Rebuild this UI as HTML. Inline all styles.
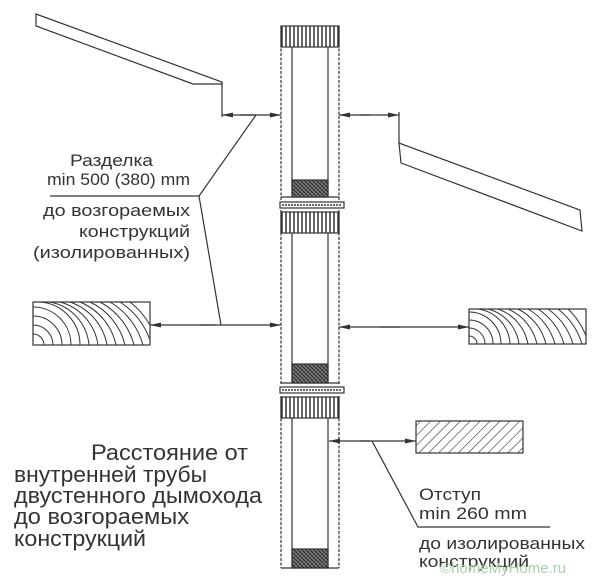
<!DOCTYPE html>
<html><head><meta charset="utf-8"><style>
html,body{margin:0;padding:0;background:#fff;}
svg{display:block;}
text{font-family:"Liberation Sans",sans-serif;fill:#333;}
</style></head><body>
<svg width="600" height="580" viewBox="0 0 600 580" xmlns="http://www.w3.org/2000/svg">
<defs>
<pattern id="vh" width="4" height="10" patternUnits="userSpaceOnUse"><rect width="4" height="10" fill="#fff"/><line x1="2" y1="0" x2="2" y2="10" stroke="#333" stroke-width="1.5"/></pattern>
<pattern id="xh" width="4" height="4" patternUnits="userSpaceOnUse"><rect width="4" height="4" fill="#888"/><line x1="0" y1="0" x2="4" y2="4" stroke="#222" stroke-width="1"/><line x1="4" y1="0" x2="0" y2="4" stroke="#444" stroke-width="0.8"/></pattern>
<pattern id="dh" width="7" height="7" patternUnits="userSpaceOnUse" patternTransform="rotate(45)"><rect width="7" height="7" fill="#fff"/><line x1="0" y1="0" x2="0" y2="7" stroke="#333" stroke-width="1.2"/></pattern>
<marker id="ar" markerWidth="12" markerHeight="6" refX="11" refY="3" orient="auto" markerUnits="userSpaceOnUse"><path d="M0,0.5 L11,3 L0,5.5 Z" fill="#333"/></marker>
</defs>
<g stroke="#333" stroke-width="1.2" fill="none">
<polygon points="36,14 36,26 193,84 222,84 222,82" fill="#fff"/>
<line x1="222" y1="82" x2="222" y2="117"/>
<line x1="256" y1="115" x2="222" y2="115" marker-end="url(#ar)"/>
<line x1="240" y1="115" x2="281" y2="115" marker-end="url(#ar)"/>
<polyline points="256,115 199,196 221,325"/>
<line x1="50" y1="196" x2="199" y2="196"/>
<rect x="33" y="302" width="117" height="43" fill="#fff"/>
<g stroke-width="1">
<path d="M33,334 A11,11 0 0 1 44,345"/><path d="M33,325 A20,20 0 0 1 53,345"/><path d="M33,316 A29,29 0 0 1 62,345"/><path d="M33,307 A38,38 0 0 1 71,345"/>
<path d="M40,302 A43,43 0 0 1 80,345"/><path d="M50,302 A48,48 0 0 1 89,345"/><path d="M60,302 A52,52 0 0 1 98,345"/><path d="M70,302 A56,56 0 0 1 107,345"/><path d="M80,302 A60,60 0 0 1 116,345"/><path d="M90,302 A64,64 0 0 1 125,345"/><path d="M100,302 A68,68 0 0 1 134,345"/><path d="M110,302 A72,72 0 0 1 143,345"/><path d="M120,302 A76,76 0 0 1 150,340"/><path d="M130,302 A80,80 0 0 1 150,325"/>
</g>
<line x1="215" y1="325" x2="150" y2="325" marker-end="url(#ar)"/>
<line x1="200" y1="325" x2="281" y2="325" marker-end="url(#ar)"/>
<line x1="399" y1="112" x2="399" y2="143"/>
<line x1="370" y1="115" x2="339" y2="115" marker-end="url(#ar)"/>
<line x1="360" y1="115" x2="399" y2="115" marker-end="url(#ar)"/>
<polygon points="399,143 401,163 582,231 580,210" fill="#fff"/>
<rect x="469" y="309" width="117" height="35" fill="#fff"/>
<g stroke-width="1">
<path d="M469,336 A8,8 0 0 1 477,344"/><path d="M469,328 A16,16 0 0 1 485,344"/><path d="M469,320 A24,24 0 0 1 493,344"/><path d="M469,312 A32,32 0 0 1 501,344"/>
<path d="M478,309 A37,37 0 0 1 510,344"/><path d="M488,309 A42,42 0 0 1 519,344"/><path d="M498,309 A46,46 0 0 1 528,344"/><path d="M508,309 A50,50 0 0 1 537,344"/><path d="M518,309 A54,54 0 0 1 546,344"/><path d="M528,309 A58,58 0 0 1 555,344"/><path d="M538,309 A62,62 0 0 1 564,344"/><path d="M548,309 A66,66 0 0 1 573,344"/><path d="M558,309 A70,70 0 0 1 582,344"/><path d="M568,309 A74,74 0 0 1 586,336"/>
</g>
<line x1="400" y1="327" x2="339" y2="327" marker-end="url(#ar)"/>
<line x1="380" y1="327" x2="469" y2="327" marker-end="url(#ar)"/>
<rect x="416" y="421" width="107" height="32" fill="url(#dh)"/>
<line x1="370" y1="441" x2="329" y2="441" marker-end="url(#ar)"/>
<line x1="360" y1="441" x2="416" y2="441" marker-end="url(#ar)"/>
<polyline points="372,441 418,527 550,527"/>
<g stroke-dasharray="3,1.5">
<line x1="281" y1="26" x2="281" y2="200"/><line x1="339" y1="26" x2="339" y2="200"/>
<line x1="281" y1="210" x2="281" y2="385"/><line x1="339" y1="210" x2="339" y2="385"/>
<line x1="281" y1="396" x2="281" y2="568"/><line x1="339" y1="396" x2="339" y2="568"/>
</g>
<line x1="292" y1="47" x2="292" y2="197"/><line x1="328" y1="47" x2="328" y2="197"/>
<line x1="292" y1="233" x2="292" y2="383"/><line x1="328" y1="233" x2="328" y2="383"/>
<line x1="292" y1="418" x2="292" y2="568"/><line x1="328" y1="418" x2="328" y2="568"/>
<rect x="281" y="26" width="58" height="21" fill="url(#vh)"/>
<rect x="281" y="212" width="58" height="21" fill="url(#vh)"/>
<rect x="281" y="397" width="58" height="21" fill="url(#vh)"/>
<rect x="292" y="180" width="36" height="17" fill="url(#xh)"/>
<rect x="292" y="364" width="36" height="19" fill="url(#xh)"/>
<rect x="292" y="549" width="36" height="19" fill="url(#xh)"/>
<line x1="281" y1="197" x2="339" y2="197"/><line x1="281" y1="383" x2="339" y2="383"/><line x1="281" y1="568" x2="339" y2="568"/>
<rect x="280" y="202" width="64" height="6" fill="#fff"/>
<line x1="282" y1="205" x2="342" y2="205" stroke-dasharray="2,1" stroke-width="1.5"/>
<rect x="280" y="387" width="64" height="6" fill="#fff"/>
<line x1="282" y1="390" x2="342" y2="390" stroke-dasharray="2,1" stroke-width="1.5"/>
</g>
<g font-size="17">
<text x="70" y="166" textLength="83" lengthAdjust="spacingAndGlyphs">Разделка</text>
<text x="47" y="185" textLength="143" lengthAdjust="spacingAndGlyphs">min 500 (380) mm</text>
<text x="43" y="216" textLength="147" lengthAdjust="spacingAndGlyphs">до возгораемых</text>
<text x="79" y="237" textLength="111" lengthAdjust="spacingAndGlyphs">конструкций</text>
<text x="33" y="258" textLength="157" lengthAdjust="spacingAndGlyphs">(изолированных)</text>
<text x="419" y="500" textLength="62" lengthAdjust="spacingAndGlyphs">Отступ</text>
<text x="419" y="519" textLength="108" lengthAdjust="spacingAndGlyphs">min 260 mm</text>
<text x="419" y="549" textLength="166" lengthAdjust="spacingAndGlyphs">до изолированных</text>
<text x="419" y="567" textLength="110" lengthAdjust="spacingAndGlyphs">конструкций</text>
</g>
<g font-size="22">
<text x="91" y="460" textLength="157" lengthAdjust="spacingAndGlyphs">Расстояние от</text>
<text x="14" y="482" textLength="193" lengthAdjust="spacingAndGlyphs">внутренней трубы</text>
<text x="14" y="503" textLength="248" lengthAdjust="spacingAndGlyphs">двустенного дымохода</text>
<text x="14" y="524" textLength="175" lengthAdjust="spacingAndGlyphs">до возгораемых</text>
<text x="14" y="546" textLength="132" lengthAdjust="spacingAndGlyphs">конструкций</text>
</g>
<text x="440" y="573" font-size="15" style="fill:#a8d0b0">©homeMyHome.ru</text>
</svg>
</body></html>
